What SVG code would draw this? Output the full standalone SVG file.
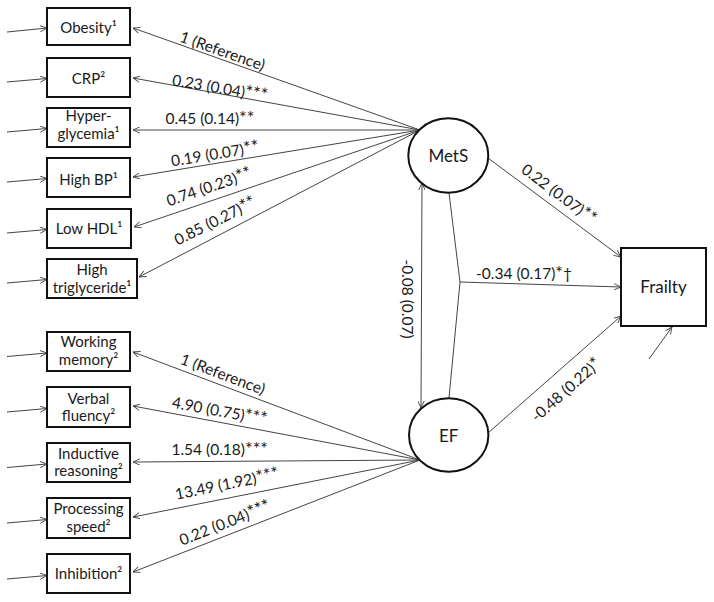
<svg xmlns="http://www.w3.org/2000/svg" width="714" height="602" viewBox="0 0 714 602">
<style>
.bx{fill:#fff;stroke:#111;stroke-width:2}
.el{fill:#fff;stroke:#111;stroke-width:2}
.ln{fill:none;stroke:#444;stroke-width:1}
.nt{font-family:Lato,"Liberation Sans",sans-serif;font-size:15px;fill:#1a1a1a;text-anchor:middle}
.lt{font-family:Lato,"Liberation Sans",sans-serif;font-size:17px;fill:#1a1a1a;text-anchor:middle}
.et{font-family:Lato,"Liberation Sans",sans-serif;font-size:15.5px;fill:#1a1a1a;text-anchor:middle}
.st{font-size:18px}
</style>
<defs>
<marker id="ah" viewBox="0 0 10 10" refX="10" refY="5" markerWidth="7" markerHeight="7" orient="auto-start-reverse" markerUnits="userSpaceOnUse">
<path d="M0,0.5 L10,5 L0,9.5" fill="none" stroke="#444" stroke-width="1.3"/>
</marker>
</defs>
<rect width="714" height="602" fill="#fff"/>

<g id="connectors">
<line class="ln" x1="7" y1="32" x2="47" y2="28" marker-end="url(#ah)"/>
<line class="ln" x1="7" y1="82" x2="47" y2="78.5" marker-end="url(#ah)"/>
<line class="ln" x1="7" y1="132" x2="47" y2="128.5" marker-end="url(#ah)"/>
<line class="ln" x1="7" y1="182" x2="47" y2="178.5" marker-end="url(#ah)"/>
<line class="ln" x1="7" y1="233" x2="47" y2="229.5" marker-end="url(#ah)"/>
<line class="ln" x1="7" y1="283" x2="47" y2="279.5" marker-end="url(#ah)"/>
<line class="ln" x1="7" y1="356.5" x2="47" y2="353" marker-end="url(#ah)"/>
<line class="ln" x1="7" y1="412" x2="47" y2="408.5" marker-end="url(#ah)"/>
<line class="ln" x1="7" y1="467.5" x2="47" y2="464" marker-end="url(#ah)"/>
<line class="ln" x1="7" y1="523" x2="47" y2="519.5" marker-end="url(#ah)"/>
<line class="ln" x1="7" y1="579" x2="47" y2="575.5" marker-end="url(#ah)"/>
<line class="ln" x1="420" y1="130" x2="133" y2="28" marker-end="url(#ah)"/>
<line class="ln" x1="420" y1="130" x2="133" y2="78" marker-end="url(#ah)"/>
<line class="ln" x1="420" y1="130" x2="133" y2="130" marker-end="url(#ah)"/>
<line class="ln" x1="420" y1="130" x2="133" y2="177" marker-end="url(#ah)"/>
<line class="ln" x1="420" y1="130" x2="134" y2="227" marker-end="url(#ah)"/>
<line class="ln" x1="420" y1="130" x2="139" y2="277" marker-end="url(#ah)"/>
<line class="ln" x1="420" y1="460" x2="133" y2="352" marker-end="url(#ah)"/>
<line class="ln" x1="420" y1="460" x2="133" y2="406" marker-end="url(#ah)"/>
<line class="ln" x1="420" y1="460" x2="133" y2="462" marker-end="url(#ah)"/>
<line class="ln" x1="420" y1="460" x2="133" y2="517" marker-end="url(#ah)"/>
<line class="ln" x1="420" y1="460" x2="133" y2="572" marker-end="url(#ah)"/>
<line class="ln" x1="422" y1="183" x2="421" y2="408" marker-start="url(#ah)" marker-end="url(#ah)"/>
<line class="ln" x1="488" y1="158" x2="621" y2="257" marker-end="url(#ah)"/>
<polyline class="ln" points="449,193 460,282 449,398"/>
<line class="ln" x1="460" y1="282" x2="621" y2="287" marker-end="url(#ah)"/>
<line class="ln" x1="488" y1="433" x2="621" y2="316" marker-end="url(#ah)"/>
<line class="ln" x1="649" y1="359" x2="672" y2="327" marker-end="url(#ah)"/>
<text class="et" transform="translate(222.5,51) rotate(19.4)" dy="0.35em">1 (Reference)</text>
<text class="et" transform="translate(220,88) rotate(9.8)" dy="0.35em">0.23 (0.04)<tspan class="st">***</tspan></text>
<text class="et" transform="translate(210,118.5)" dy="0.35em">0.45 (0.14)<tspan class="st">**</tspan></text>
<text class="et" transform="translate(215,154) rotate(-9.2)" dy="0.35em">0.19 (0.07)<tspan class="st">**</tspan></text>
<text class="et" transform="translate(209,187) rotate(-18.7)" dy="0.35em">0.74 (0.23)<tspan class="st">**</tspan></text>
<text class="et" transform="translate(215,221) rotate(-26.6)" dy="0.35em">0.85 (0.27)<tspan class="st">**</tspan></text>
<text class="et" transform="translate(222.8,374.2) rotate(20.6)" dy="0.35em">1 (Reference)</text>
<text class="et" transform="translate(219.7,411) rotate(10.6)" dy="0.35em">4.90 (0.75)<tspan class="st">***</tspan></text>
<text class="et" transform="translate(219.7,450)" dy="0.35em">1.54 (0.18)<tspan class="st">***</tspan></text>
<text class="et" transform="translate(227,484) rotate(-11.3)" dy="0.35em">13.49 (1.92)<tspan class="st">***</tspan></text>
<text class="et" transform="translate(225,523) rotate(-21.4)" dy="0.35em">0.22 (0.04)<tspan class="st">***</tspan></text>
<text class="et" transform="translate(559,194) rotate(36.9)" dy="0.35em">0.22 (0.07)<tspan class="st">**</tspan></text>
<text class="et" transform="translate(524,274)" dy="0.35em">-0.34 (0.17)<tspan class="st">*</tspan>†</text>
<text class="et" transform="translate(566,390) rotate(-41.5)" dy="0.35em">-0.48 (0.22)<tspan class="st">*</tspan></text>
<text class="et" transform="translate(407,299) rotate(90)" dy="0.35em">-0.08 (0.07)</text>
</g>

<g id="obesity"><rect class="bx" x="47" y="8" width="83" height="37"/><text class="nt" x="88.5" y="33">Obesity¹</text></g>
<g id="crp"><rect class="bx" x="47" y="58" width="83" height="39"/><text class="nt" x="88.5" y="84">CRP²</text></g>
<g id="hyperglycemia"><rect class="bx" x="47" y="108" width="83" height="39"/><text class="nt" x="88.5" y="121">Hyper-</text><text class="nt" x="88.5" y="138.5">glycemia¹</text></g>
<g id="highbp"><rect class="bx" x="47" y="158" width="83" height="39"/><text class="nt" x="88.5" y="185">High BP¹</text></g>
<g id="lowhdl"><rect class="bx" x="47" y="209" width="84" height="39"/><text class="nt" x="89" y="234">Low HDL¹</text></g>
<g id="triglyceride"><rect class="bx" x="47" y="259" width="90" height="39"/><text class="nt" x="92" y="275">High</text><text class="nt" x="92" y="292.5">triglyceride¹</text></g>

<g id="workingmemory"><rect class="bx" x="47" y="332" width="83" height="39"/><text class="nt" x="88.5" y="347">Working</text><text class="nt" x="88.5" y="364.5">memory²</text></g>
<g id="verbalfluency"><rect class="bx" x="47" y="387" width="83" height="40"/><text class="nt" x="88.5" y="403.5">Verbal</text><text class="nt" x="88.5" y="421">fluency²</text></g>
<g id="inductivereasoning"><rect class="bx" x="47" y="443" width="83" height="39"/><text class="nt" x="88.5" y="458.5">Inductive</text><text class="nt" x="88.5" y="476">reasoning²</text></g>
<g id="processingspeed"><rect class="bx" x="47" y="498" width="83" height="40"/><text class="nt" x="88.5" y="514">Processing</text><text class="nt" x="88.5" y="531.5">speed²</text></g>
<g id="inhibition"><rect class="bx" x="47" y="554" width="83" height="39"/><text class="nt" x="88.5" y="579">Inhibition²</text></g>

<g id="mets"><ellipse class="el" cx="448.3" cy="155.5" rx="40" ry="37.2"/><text class="lt" x="448.3" y="161.5">MetS</text></g>
<g id="ef"><ellipse class="el" cx="448.7" cy="435" rx="39.7" ry="36.7"/><text class="lt" x="448.7" y="441.5">EF</text></g>
<g id="frailty"><rect class="bx" x="621" y="248" width="85" height="78"/><text class="lt" x="663.5" y="293">Frailty</text></g>
</svg>
